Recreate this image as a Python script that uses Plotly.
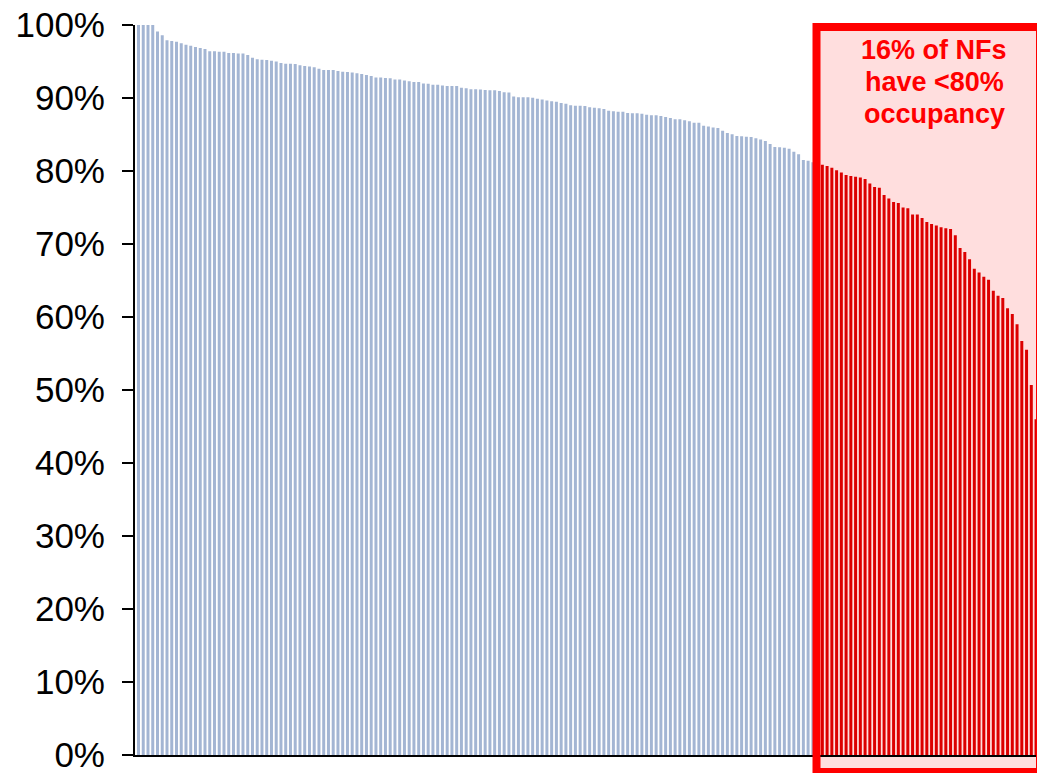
import plotly.graph_objects as go

# Occupancy share per NF, sorted from highest to lowest.
# Units at or above the 80% mark (blue), then those below it (red).
blue_share = [
    100.0, 100.0, 100.0, 100.0, 99.1, 98.6, 97.9, 97.8, 97.7, 97.5,
    97.3, 97.15, 97.0, 96.85, 96.7, 96.4, 96.4, 96.35, 96.35, 96.15,
    96.15, 96.1, 96.1, 95.9, 95.5, 95.3, 95.25, 95.2, 95.1, 95.0,
    94.8, 94.7, 94.7, 94.65, 94.5, 94.4, 94.3, 94.2, 94.0, 93.85,
    93.85, 93.85, 93.7, 93.6, 93.55, 93.5, 93.4, 93.3, 93.15, 93.0,
    92.8, 92.8, 92.75, 92.7, 92.55, 92.55, 92.4, 92.3, 92.2, 92.2,
    92.0, 91.95, 91.8, 91.8, 91.7, 91.65, 91.65, 91.65, 91.4, 91.35,
    91.2, 91.2, 91.15, 91.1, 91.05, 91.05, 90.95, 90.8, 90.75, 90.2,
    90.1, 90.1, 90.1, 90.05, 89.9, 89.8, 89.65, 89.55, 89.5, 89.3,
    89.2, 89.0, 88.95, 88.95, 88.9, 88.75, 88.65, 88.6, 88.5, 88.25,
    88.2, 88.1, 88.1, 87.95, 87.9, 87.9, 87.85, 87.7, 87.65, 87.65,
    87.55, 87.4, 87.25, 87.1, 87.1, 86.95, 86.8, 86.6, 86.6, 86.2,
    86.1, 85.95, 85.9, 85.5, 85.2, 85.05, 84.8, 84.75, 84.7, 84.65,
    84.5, 84.3, 84.1, 83.7, 83.3, 83.25, 83.2, 83.05, 82.65, 82.3,
    81.5, 81.4, 81.2, 81.0,
]
red_share = [
    80.85, 80.7, 80.45, 80.1, 79.8, 79.45, 79.3, 79.2, 79.1, 78.9,
    78.3, 77.8, 77.7, 76.7, 76.25, 75.75, 75.6, 75.0, 74.9, 74.05,
    74.05, 73.55, 73.0, 72.75, 72.55, 72.3, 72.15, 72.05, 71.2, 69.45,
    68.9, 67.9, 66.6, 66.1, 65.5, 65.1, 63.6, 62.9, 62.6, 61.2,
    60.4, 59.0, 56.7, 55.5, 50.7, 46.0,
]
y_ticks = list(range(0, 101, 10))
y_tick_text = [f"{v}%" for v in y_ticks]
callout_lines = ["16% of NFs", "have &lt;80%", "occupancy"]

blue_x = list(range(len(blue_share)))
red_x = list(range(len(blue_share), len(blue_share) + len(red_share)))

FONT = "Arial, 'Liberation Sans', sans-serif"
BLUE = "#a3b5d3"
DARK_RED = "#dc0000"
BRIGHT_RED = "#ff0000"
PINK = "#ffdede"

fig = go.Figure()
fig.add_trace(go.Bar(x=blue_x, y=blue_share, marker=dict(color=BLUE, line_width=0),
                     hoverinfo="skip", showlegend=False))
fig.add_trace(go.Bar(x=red_x, y=red_share, marker=dict(color=DARK_RED, line_width=0),
                     hoverinfo="skip", showlegend=False))

W, H = 1037, 773
ML, MR, MT, MB = 135, 0, 25, 18
pw, ph = W - ML - MR, H - MT - MB


def px_x(p):
    return (p - ML) / pw


def px_y(p):
    return (H - MB - p) / ph


box = dict(xref="paper", yref="paper",
           x0=px_x(816.5), x1=px_x(1040), y0=px_y(772), y1=px_y(27))

# Highlight panel behind the low-occupancy bars
fig.add_shape(type="rect", layer="below", fillcolor=PINK, line_width=0, **box)
# Heavy outline drawn on top
fig.add_shape(type="rect", layer="above", fillcolor="rgba(0,0,0,0)",
              line=dict(color=BRIGHT_RED, width=8), **box)

for text, ypix in zip(callout_lines, [50, 82, 114]):
    fig.add_annotation(xref="paper", yref="paper", x=px_x(934), y=px_y(ypix),
                       xanchor="center", yanchor="middle", showarrow=False,
                       text=f"<b>{text}</b>",
                       font=dict(family=FONT, size=27, color=BRIGHT_RED))

fig.update_layout(
    width=W, height=H, autosize=False,
    margin=dict(l=ML, r=MR, t=MT, b=MB, pad=0, autoexpand=False),
    paper_bgcolor="white", plot_bgcolor="rgba(0,0,0,0)",
    bargap=0.37, barmode="overlay",
    font=dict(family=FONT, color="black"),
)
fig.update_xaxes(range=[-0.737, 189.2], showticklabels=False, ticks="",
                 showgrid=False, zeroline=False, showline=True,
                 linecolor="black", linewidth=2, automargin=False)
fig.update_yaxes(range=[0, 100], tickvals=y_ticks, ticktext=y_tick_text,
                 showgrid=False, zeroline=False, showline=True,
                 linecolor="black", linewidth=2, ticks="outside", ticklen=11,
                 tickwidth=2, tickcolor="black", ticklabelstandoff=10,
                 ticklabeloverflow="allow", automargin=False,
                 tickfont=dict(family=FONT, size=35, color="black"))

fig.write_html("out.html")
